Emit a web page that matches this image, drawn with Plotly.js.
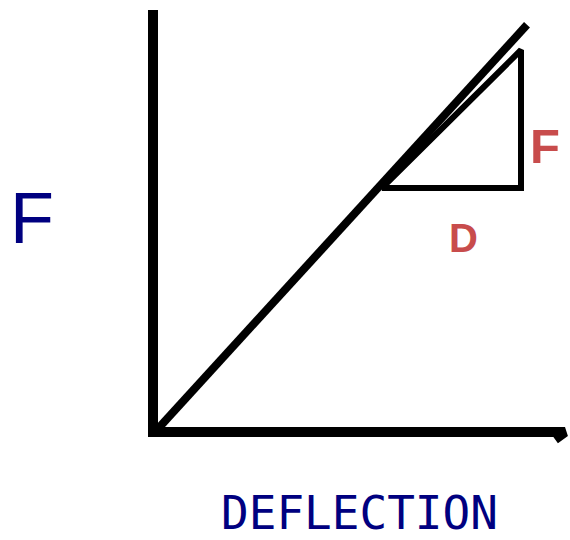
<!DOCTYPE html>
<html>
<head>
<meta charset="utf-8">
<script src="https://cdn.plot.ly/plotly-3.0.1.min.js"></script>
<style>
  html, body { margin: 0; padding: 0; background: #ffffff; }
  #chart { width: 570px; height: 540px; }
</style>
</head>
<body>
<div id="chart"></div>
<script>
// Force vs deflection sketch with slope triangle (F / D)

// axes (deflection, force) - drawn as thick lines
const axisX = [0, 0, 10.3, 10.05];
const axisY = [10.55, 0, 0, -0.18];

// straight loading line
const lineDefl = [0.05, 9.35];
const lineForce = [0, 10.18];

// slope triangle
const triDefl = [5.72, 9.2, 9.2, 5.72];
const triForce = [6.1, 9.55, 6.1, 6.1];

// labels
const labelText = ['F', 'DEFLECTION', 'F', 'D'];
const labelX = [-3.02, 5.17, 9.8, 7.75];
const labelY = [5.35, -2.03, 7.15, 4.85];

const navy = '#000080';
const red = '#c84c4c';

const traces = [
    {
        x: axisX, y: axisY,
        mode: 'lines', type: 'scatter',
        line: { color: '#000000', width: 10 },
        hoverinfo: 'skip'
    },
    {
        x: lineDefl, y: lineForce,
        mode: 'lines', type: 'scatter',
        line: { color: '#000000', width: 8 },
        hoverinfo: 'skip'
    },
    {
        x: triDefl, y: triForce,
        mode: 'lines', type: 'scatter',
        line: { color: '#000000', width: 6 },
        hoverinfo: 'skip'
    }
];

const annotations = labelText.map((t, i) => ({
    x: labelX[i], y: labelY[i],
    xref: 'x', yref: 'y',
    text: t,
    showarrow: false,
    xanchor: 'center', yanchor: 'middle',
    font: [
        { family: 'Liberation Sans, Arial, sans-serif', size: 72, color: navy },
        { family: 'DejaVu Sans Mono, monospace', size: 46, color: navy },
        { family: 'Liberation Sans, Arial, sans-serif', size: 49, color: red, weight: 'bold' },
        { family: 'Liberation Sans, Arial, sans-serif', size: 40, color: red, weight: 'bold' }
    ][i]
}));

const layout = {
    width: 570,
    height: 540,
    margin: { t: 0, b: 0, l: 0, r: 0 },
    showlegend: false,
    paper_bgcolor: '#ffffff',
    plot_bgcolor: '#ffffff',
    xaxis: { range: [-3.825, 10.425], visible: false, fixedrange: true },
    yaxis: { range: [-2.7, 10.8], visible: false, fixedrange: true },
    annotations: annotations
};

Plotly.newPlot('chart', traces, layout, { displayModeBar: false, staticPlot: true });
</script>
</body>
</html>
